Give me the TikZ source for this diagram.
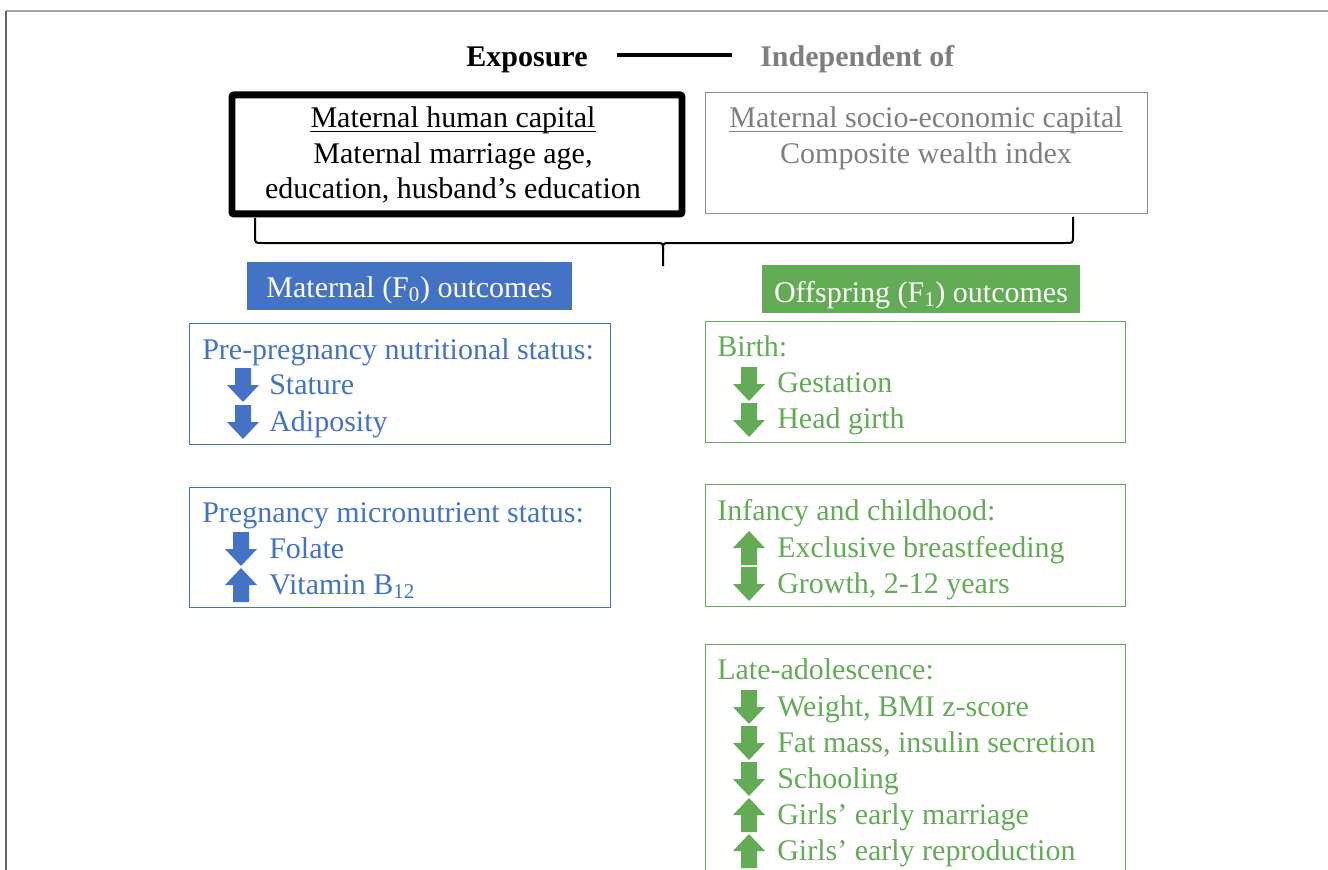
\documentclass[tikz,border=0pt]{standalone}
\usepackage{fontspec}
\setmainfont{Liberation Serif}
\definecolor{mblue}{HTML}{4472C4}
\definecolor{mgreen}{RGB}{99,172,85}
\definecolor{mgray}{HTML}{7F7F7F}
\definecolor{fgray}{HTML}{8C8C8C}
\begin{document}
\begin{tikzpicture}[x=0.75pt,y=-0.75pt,
  txt/.style={inner sep=0pt, font=\fontsize{22.5}{27}\selectfont},
  ctxt/.style={txt, anchor=base},
  btxt/.style={txt, text=mblue, anchor=base west},
  gtxt/.style={txt, text=mgreen, anchor=base west},
  bbox/.style={draw=mblue, line width=1.1pt, anchor=north west, inner sep=0pt},
  gbox/.style={draw=mgreen, line width=1.1pt, anchor=north west, inner sep=0pt},
  dnarrow/.pic={\fill (-8,-17) -- (8,-17) -- (8,0) -- (16,0) -- (0,17) -- (-16,0) -- (-8,0) -- cycle;},
  uparrow/.pic={\fill (-8,17) -- (8,17) -- (8,0) -- (16,0) -- (0,-17) -- (-16,0) -- (-8,0) -- cycle;},
  uline/.style={line width=1pt},
]
\clip (0,0) rectangle (1328,870);
\fill[white] (0,0) rectangle (1328,870);

% frame
\coordinate (fa) at (6,11);
\coordinate (fb) at (1328,11);
\coordinate (fc) at (6,870);
\draw[fgray!80, line width=1.5pt] (fa) -- (fb);
\draw[black!60, line width=1.2pt] (fa) -- (fc);

% header
\node[ctxt, font=\fontsize{22.5}{27}\selectfont\bfseries] (expo) at (527,67) {Exposure};
\node[txt, anchor=base west, text=mgray, font=\fontsize{22.5}{27}\selectfont\bfseries] (indep) at (760,67) {Independent of};
\coordinate (hl1) at (617,55);
\coordinate (hl2) at (732,55);
\draw[line width=3pt] (hl1) -- (hl2);

% exposure box
\node[draw, line width=5.2pt, rounded corners=1.5pt, anchor=north west, minimum width=450*0.75pt, minimum height=119*0.75pt, inner sep=0pt] (hc) at (228.5,91.5) {};
\node[ctxt] (hc1) at (453,128) {Maternal human capital};
\draw[uline] ([yshift=-2.4pt]hc1.base west) -- ([yshift=-2.4pt]hc1.base east);
\node[ctxt] (hc2) at (453,164) {Maternal marriage age,};
\node[ctxt] (hc3) at (453,199) {education, husband’s education};

% independent box
\node[draw=fgray, line width=1.1pt, anchor=north west, minimum width=442*0.75pt, minimum height=121*0.75pt, inner sep=0pt] (sec) at (704.5,92) {};
\node[ctxt, text=mgray] (sec1) at (926,128) {Maternal socio-economic capital};
\draw[uline, mgray] ([yshift=-2.4pt]sec1.base west) -- ([yshift=-2.4pt]sec1.base east);
\node[ctxt, text=mgray] (sec2) at (926,164) {Composite wealth index};

% brace
\coordinate (brL) at (255,218);
\coordinate (brR) at (1073,217);
\coordinate (brT) at (663,266);
\draw[line width=1.5pt] (brL) -- (255,236) .. controls (255,243) .. (262,243) -- (656,243)
  .. controls (663,243) .. (663,250) -- (brT);
\draw[line width=1.5pt] (663,250) .. controls (663,243) .. (670,243) -- (1066,243)
  .. controls (1073,243) .. (1073,236) -- (brR);

% labels
\node[fill=mblue, anchor=north west, minimum width=325*0.75pt, minimum height=48*0.75pt, inner sep=0pt] (mlab) at (247,262) {};
\node[ctxt, text=white] (mlabt) at (409.5,297) {Maternal (F\textsubscript{0}) outcomes};
\node[fill=mgreen, anchor=north west, minimum width=318*0.75pt, minimum height=48*0.75pt, inner sep=0pt] (olab) at (762,265) {};
\node[ctxt, text=white] (olabt) at (921,302) {Offspring (F\textsubscript{1}) outcomes};

% maternal boxes
\node[bbox, minimum width=421*0.75pt, minimum height=121*0.75pt] (m1) at (189,323) {};
\node[btxt] (m1t) at (202,359) {Pre-pregnancy nutritional status:};
\pic[color=mblue] at (243,385) {dnarrow};
\node[btxt] (m1a) at (269,394) {Stature};
\pic[color=mblue] at (243,422) {dnarrow};
\node[btxt] (m1b) at (269,431) {Adiposity};

\node[bbox, minimum width=421*0.75pt, minimum height=120*0.75pt] (m2) at (189,487) {};
\node[btxt] (m2t) at (202,522) {Pregnancy micronutrient status:};
\pic[color=mblue] at (241,549) {dnarrow};
\node[btxt] (m2a) at (269,558) {Folate};
\pic[color=mblue] at (241,585) {uparrow};
\node[btxt] (m2b) at (269,594) {Vitamin B\textsubscript{12}};

% offspring boxes
\node[gbox, minimum width=420*0.75pt, minimum height=121*0.75pt] (o1) at (704.5,321) {};
\node[gtxt] (o1t) at (717,356) {Birth:};
\pic[color=mgreen] at (749,384) {dnarrow};
\node[gtxt] (o1a) at (777,392) {Gestation};
\pic[color=mgreen] at (749,420) {dnarrow};
\node[gtxt] (o1b) at (777,428) {Head girth};

\node[gbox, minimum width=420*0.75pt, minimum height=122*0.75pt] (o2) at (704.5,484) {};
\node[gtxt] (o2t) at (717,520) {Infancy and childhood:};
\pic[color=mgreen] at (749,548) {uparrow};
\node[gtxt] (o2a) at (777,557) {Exclusive breastfeeding};
\pic[color=mgreen] at (749,584) {dnarrow};
\node[gtxt] (o2b) at (777,593) {Growth, 2-12 years};

\node[gbox, minimum width=420*0.75pt, minimum height=260*0.75pt] (o3) at (704.5,644) {};
\node[gtxt] (o3t) at (717,679) {Late-adolescence:};
\pic[color=mgreen] at (749,707) {dnarrow};
\node[gtxt] (o3a) at (777,716) {Weight, BMI z-score};
\pic[color=mgreen] at (749,743) {dnarrow};
\node[gtxt] (o3b) at (777,752) {Fat mass, insulin secretion};
\pic[color=mgreen] at (749,779) {dnarrow};
\node[gtxt] (o3c) at (777,788) {Schooling};
\pic[color=mgreen] at (749,815) {uparrow};
\node[gtxt] (o3d) at (777,824) {Girls’ early marriage};
\pic[color=mgreen] at (749,851) {uparrow};
\node[gtxt] (o3e) at (777,860) {Girls’ early reproduction};
\end{tikzpicture}
\end{document}
